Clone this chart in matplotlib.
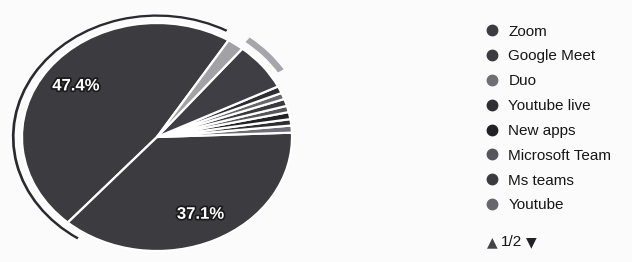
import matplotlib
matplotlib.use("Agg")
import matplotlib.pyplot as plt
from matplotlib.patches import Wedge
from matplotlib.lines import Line2D
import matplotlib.patheffects as pe

# legend page 1 (page 2 holds the last three slices)
apps = ["Zoom", "Google Meet", "Duo", "Youtube live", "New apps",
        "Microsoft Team", "Ms teams", "Youtube"]
shares = [47.4, 37.1, 1.0, 0.9, 1.0, 0.9, 1.0, 0.9, 1.0, 6.8, 2.0]
colors = ["#3b3b40", "#3b3b40", "#6e6e74", "#2e2e33", "#222226",
          "#55555b", "#3a3a3f", "#66666c", "#2e2e33", "#3e3e44", "#a2a2a6"]
page_text = "1/2"

plt.rcParams['font.family'] = ['Liberation Sans', 'DejaVu Sans']

fig = plt.figure(figsize=(6.32, 2.62), dpi=100)
fig.patch.set_facecolor("#fbfbfb")

# pie axes, stretched a bit wider than tall like the photo
rx, ry, cx, cy = 135, 114, 157, 137
ax = fig.add_axes([(cx - 1.15*rx)/632, (262 - cy - 1.15*ry)/262,
                   2.3*rx/632, 2.3*ry/262])
wedges, texts, autotexts = ax.pie(
    shares, colors=colors, startangle=58, counterclock=True,
    wedgeprops=dict(edgecolor="white", linewidth=1.6),
    autopct=lambda p: f"{p:.1f}%" if p > 10 else "", pctdistance=0.75)
for t in autotexts:
    t.set_color("white")
    t.set_fontsize(12)
    t.set_fontweight("bold")
    t.set_path_effects([pe.withStroke(linewidth=2.5, foreground="#1a1a1a")])
ax.set_aspect("auto")
ax.set_xlim(-1.15, 1.15)
ax.set_ylim(-1.15, 1.15)

# selection ring around the biggest slice
w0 = wedges[0]
ax.add_patch(Wedge((0, 0), 1.075, w0.theta1 + 3, w0.theta2 + 8, width=0.02,
                   facecolor="#2a2a2e", edgecolor="none"))
# hover arc outside the dark slice
w9 = wedges[9]
ax.add_patch(Wedge((0, 0), 1.11, w9.theta1 + 6, w9.theta2 + 1, width=0.05,
                   facecolor="#a6a6aa", edgecolor="none"))

handles = [Line2D([], [], marker="o", linestyle="", markersize=7.5,
                  markerfacecolor=c, markeredgecolor=c) for c in colors[:len(apps)]]
fig.legend(handles, apps, loc="upper left",
           bbox_to_anchor=(484/632, 1 - 24.5/262), frameon=False,
           fontsize=11, handlelength=1.0, handletextpad=0.6,
           labelspacing=0.71, borderpad=0, borderaxespad=0,
           labelcolor="#161616")

fig.text(492/632, 1 - 242/262, "▲", ha="center", va="center",
         fontsize=10, color="#444448", family="DejaVu Sans")
fig.text(511/632, 1 - 242/262, page_text, ha="center", va="center",
         fontsize=11, color="#161616")
fig.text(531/632, 1 - 242/262, "▼", ha="center", va="center",
         fontsize=10, color="#222226", family="DejaVu Sans")

fig.savefig("out.png", dpi=100, facecolor=fig.get_facecolor())
